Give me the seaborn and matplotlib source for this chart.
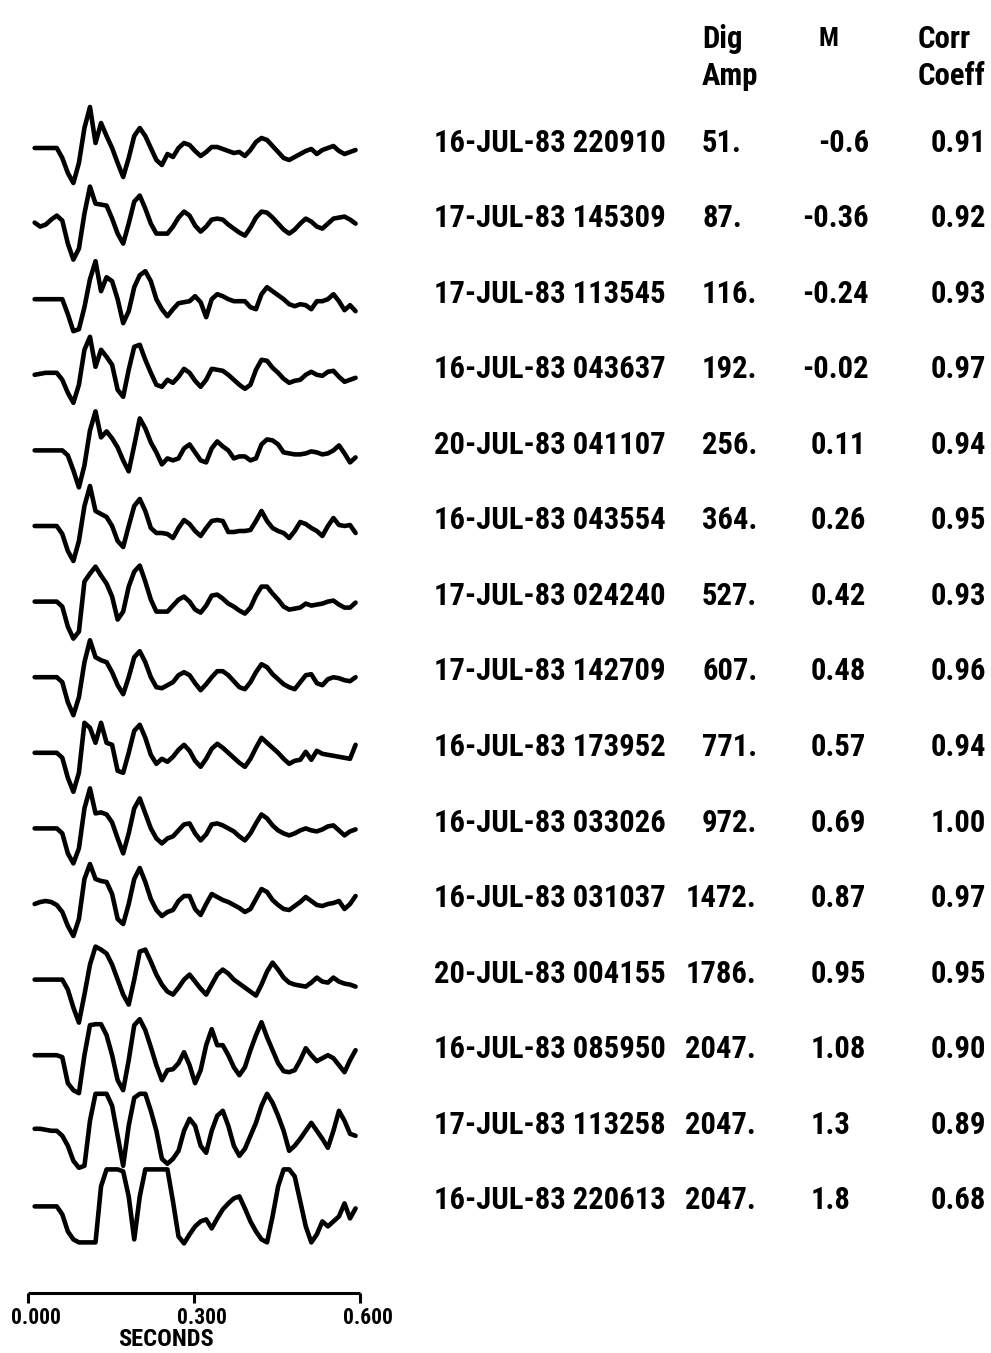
import numpy as np
import pandas as pd
import matplotlib
matplotlib.use("Agg")
import matplotlib.pyplot as plt
from matplotlib import font_manager as fm
from matplotlib.textpath import TextPath
import seaborn as sns

sns.set_theme(style="white")
plt.rcParams["font.family"] = ["DejaVu Sans"]

# ---------------------------------------------------------------- event table
event_labels = [
    "16-JUL-83 220910", "17-JUL-83 145309", "17-JUL-83 113545",
    "16-JUL-83 043637", "20-JUL-83 041107", "16-JUL-83 043554",
    "17-JUL-83 024240", "17-JUL-83 142709", "16-JUL-83 173952",
    "16-JUL-83 033026", "16-JUL-83 031037", "20-JUL-83 004155",
    "16-JUL-83 085950", "17-JUL-83 113258", "16-JUL-83 220613",
]
dig_amp = [51, 87, 116, 192, 256, 364, 527, 607, 771, 972, 1472, 1786, 2047, 2047, 2047]
magnitude = [-0.6, -0.36, -0.24, -0.02, 0.11, 0.26, 0.42, 0.48, 0.57, 0.69,
             0.87, 0.95, 1.08, 1.3, 1.8]
corr_coeff = [0.91, 0.92, 0.93, 0.97, 0.94, 0.95, 0.93, 0.96, 0.94, 1.00,
              0.97, 0.95, 0.90, 0.89, 0.68]

# ---------------------------------------------------------------- waveforms
# Digitised seismograms, one sample every 10 ms starting 12 ms after the
# window start; deflection in plot units (positive = up).
SAMPLE_START = 0.012
SAMPLE_INTERVAL = 0.010

wave_01 = [0, 0, 0, 0, 0, -10, -25, -35, -15, 20, 41, 5, 25, 12, 0,
           -15, -29, -10, 12, 20, 12, 0, -12, -17, -6, -9, 0, 5, 3, -3,
           -8, -4, 1, 1, -1, -3, -5, -4, -8, -2, 6, 10, 8, 2, -4,
           -10, -12, -9, -6, -3, -1, -6, -2, 0, 2, -3, -6, -4, -2]
wave_02 = [1, -3, -1, 4, 8, 3, -20, -36, -25, 10, 37, 20, 19, 18, 5,
           -10, -20, 0, 22, 28, 15, 0, -10, -10, -10, -3, 6, 12, 8, -2,
           -8, -3, 4, 5, 4, -1, -5, -9, -12, -4, 6, 12, 11, 6, 0,
           -6, -10, -6, 0, 5, 2, -3, -5, 0, 5, 6, 7, 4, 0]
wave_03 = [0, 0, 0, 0, 0, 0, -15, -32, -30, -8, 20, 38, 8, 22, 18,
           0, -24, -12, 12, 24, 28, 18, 0, -10, -17, -10, -4, -3, -2, 3,
           -3, -18, 0, 5, 3, 0, -2, -2, -2, -8, -10, 5, 12, 8, 4,
           0, -5, -7, -5, -6, -10, -2, -2, 0, 5, -2, -11, -6, -12]
wave_04 = [0, 1, 2, 2, 2, -5, -18, -28, -10, 25, 38, 8, 25, 18, 10,
           -15, -22, 5, 28, 30, 15, 2, -10, -12, -5, -8, -2, 6, 2, -6,
           -12, -5, 6, 5, 4, 0, -5, -10, -14, -10, 5, 15, 14, 7, 2,
           -4, -8, -6, -5, 0, 3, 0, -1, 3, 4, -2, -7, -5, -3]
wave_05 = [0, 0, 0, 0, 0, 0, -5, -20, -37, -15, 20, 39, 13, 19, 12,
           3, -10, -21, 5, 32, 22, 8, -2, -14, -8, -10, -8, 2, 6, -2,
           -10, -12, 2, 9, 4, 0, -8, -6, -6, -10, -8, 6, 11, 10, 6,
           -2, -3, -4, -4, -3, -1, -2, -4, -3, 0, 5, -3, -12, -7]
wave_06 = [0, 0, 0, 0, 0, -8, -25, -35, -15, 20, 40, 15, 12, 9, 0,
           -15, -21, 0, 20, 27, 15, -2, -7, -7, -8, -12, -2, 6, 2, -5,
           -10, -2, 5, 6, 5, -6, -6, -5, -5, -4, 5, 15, 5, -2, -5,
           -7, -12, -5, 4, 2, -2, -5, -10, 0, 8, 1, 0, 1, -7]
wave_07 = [0, 0, 0, 0, 0, -5, -25, -37, -30, 20, 28, 35, 26, 18, 5,
           -18, -10, 15, 30, 36, 20, 2, -10, -10, -10, -4, 2, 5, 0, -8,
           -11, -4, 6, 7, 3, -2, -5, -9, -12, -6, 6, 15, 15, 8, 2,
           -5, -8, -7, -6, -2, -4, -3, -2, 0, 1, -3, -6, -6, -1]
wave_08 = [0, 0, 0, 0, 0, -5, -25, -38, -20, 15, 37, 20, 17, 15, 5,
           -8, -17, 0, 20, 26, 15, 0, -10, -11, -8, -5, 2, 5, 2, -6,
           -13, -7, 0, 6, 6, 2, -4, -10, -12, -5, 5, 13, 10, 3, -2,
           -7, -10, -12, -5, 2, 3, -6, -8, -2, 0, -1, -3, -4, 0]
wave_09 = [0, 0, 0, 0, 0, -5, -25, -39, -20, 30, 25, 10, 30, 10, 8,
           -18, -20, 0, 22, 28, 15, -2, -11, -6, -9, -4, 3, 8, 2, -8,
           -14, -6, 4, 9, 5, 0, -5, -10, -14, -6, 5, 15, 10, 5, 0,
           -6, -11, -8, -7, 1, -7, 2, -1, -2, -3, -4, -5, -6, 8]
wave_10 = [0, 0, 0, 0, 0, -5, -25, -35, -20, 20, 40, 15, 16, 14, 6,
           -10, -25, -5, 20, 30, 15, 0, -10, -15, -10, -8, -2, 4, 5, -5,
           -12, -6, 4, 5, 3, 0, -3, -8, -12, -5, 5, 14, 10, 3, -2,
           -5, -7, -5, -2, 0, -2, -3, -1, 2, 3, -2, -7, -3, -1]
wave_11 = [0, 2, 3, 2, -1, -8, -22, -32, -15, 25, 40, 25, 23, 22, 10,
           -15, -20, 0, 25, 36, 22, 5, -6, -12, -8, -6, 3, 8, 8, -5,
           -11, 0, 10, 7, 4, 2, -1, -4, -8, -5, 5, 15, 12, 4, -1,
           -5, -6, -2, 2, 7, 3, -1, -2, 0, 1, 3, -5, 0, 8]
wave_12 = [0, 0, 0, 0, 0, 0, -10, -28, -43, -15, 15, 33, 30, 26, 15,
           0, -15, -25, 0, 28, 30, 18, 5, -5, -12, -15, -8, 0, 5, -2,
           -9, -15, -5, 5, 10, 6, 0, -4, -8, -12, -16, -5, 8, 17, 10,
           2, -3, -5, -6, -7, -3, 2, -2, -3, 2, -2, -4, -5, -7]
wave_13 = [0, 0, 0, 0, 0, -2, -28, -35, -38, 0, 30, 31, 31, 20, 0,
           -25, -35, -5, 30, 36, 25, 8, -10, -25, -15, -14, -8, 3, -10, -28,
           -15, 10, 26, 10, 10, 0, -12, -20, -12, 5, 20, 33, 18, 5, -8,
           -16, -17, -15, -5, 7, 0, -6, -3, 0, -3, -10, -17, -5, 5]
wave_14 = [2, 2, 1, 0, 0, -5, -15, -30, -37, -35, 10, 37, 37, 37, 25,
           -5, -35, 5, 33, 37, 37, 20, 0, -28, -33, -28, -20, 0, 12, 5,
           -15, -22, 0, 15, 20, 5, -15, -25, -18, -5, 8, 25, 37, 28, 15,
           0, -20, -15, -8, 0, 8, 0, -8, -17, 0, 20, 10, -3, -5]
wave_15 = [0, 0, 0, 0, 0, -8, -25, -33, -36, -36, -36, -36, 20, 37, 37,
           37, 35, 10, -33, 10, 37, 37, 37, 37, 37, 5, -30, -37, -28, -20,
           -15, -13, -22, -12, -3, 3, 8, 10, -2, -15, -25, -33, -36, -10, 20,
           37, 37, 30, 5, -20, -36, -28, -15, -20, -15, -10, 3, -12, -2]

waves = [wave_01, wave_02, wave_03, wave_04, wave_05, wave_06, wave_07,
         wave_08, wave_09, wave_10, wave_11, wave_12, wave_13, wave_14, wave_15]

# time scale bar (seconds)
scale_ticks = [0.0, 0.3, 0.6]

# ---------------------------------------------------------------- layout
W, H = 991, 1353                 # figure size in pixels
PX_PER_SEC = 332 / 0.6           # horizontal trace scale
T0_PX = 28                       # pixel column of t = 0
FIRST_BASE_PX = 148              # baseline of the first trace
TRACE_STEP = 75.6                # vertical spacing between traces
ROW0_PX = 141                    # centre of the first table row
ROW_STEP = 75.57
LEFT_W = 400                     # width of the waveform panel
DATE_W_PX = 228                  # ink width of one date/time label
DATE_H_PX = 23                   # ink height of one date/time label
PX_PER_PT = 100 / 72

SANS_FAMILIES = ("Noto Sans", "DejaVu Sans", "Liberation Sans", "Roboto",
                 "Open Sans", "Lato", "Inter")
WIDTH_WORDS = ("condensed", "narrow", "compressed", "display")
BAD_WORDS = ("mono", "cjk", "symbol", "math", "slab", "serif", "italic")


def ink_extent(text, prop):
    """Ink width/height of a string at 100 pt."""
    ext = TextPath((0, 0), text, prop=prop, size=100).get_extents()
    return ext.width, ext.height


def latin_sans(f):
    name = f.name
    for fam in SANS_FAMILIES:
        if name.startswith(fam):
            rest = name[len(fam):].strip().lower()
            if any(b in rest for b in BAD_WORDS) or any(b in f.fname.lower() for b in ("italic", "mono")):
                return False
            return rest == "" or any(w in rest for w in WIDTH_WORDS) or rest in (
                "black", "bold", "extrabold", "semibold", "heavy")
    return False


def pick_font():
    """Heavy sans face whose proportions suit the narrow table lettering."""
    target = DATE_W_PX / DATE_H_PX
    best = None
    seen = set()
    for f in fm.fontManager.ttflist:
        if f.fname in seen or f.style != "normal" or not latin_sans(f):
            continue
        seen.add(f.fname)
        try:
            weight = int(f.weight)
        except (TypeError, ValueError):
            weight = 700 if "bold" in str(f.weight).lower() else 400
        if weight < 600:
            continue
        prop = fm.FontProperties(fname=f.fname)
        try:
            w, h = ink_extent(event_labels[0], prop)
        except Exception:
            continue
        if h <= 0:
            continue
        score = abs(w / h - target) + abs(weight - 800) / 300
        if best is None or score < best[0]:
            best = (score, prop)
    if best is None:
        return fm.FontProperties(family="DejaVu Sans", weight="bold")
    return best[1]


FONT = pick_font()


def size_for_width(text, width_px):
    w, _ = ink_extent(text, FONT)
    return width_px / (w / 100 * PX_PER_PT)


frames = []
for i, (label, w) in enumerate(zip(event_labels, waves)):
    t = SAMPLE_START + SAMPLE_INTERVAL * np.arange(len(w))
    frames.append(pd.DataFrame({
        "event": label,
        "time_s": t,
        "trace_y": np.asarray(w, dtype=float) - i * TRACE_STEP,
    }))
df = pd.concat(frames, ignore_index=True)

BODY_SIZE = size_for_width(event_labels[0], DATE_W_PX)
HEAD_SIZE = size_for_width("Coeff", 66)
SCALE_SIZE = size_for_width("0.000", 48)
UNIT_SIZE = size_for_width("SECONDS", 94)

fig = plt.figure(figsize=(W / 100, H / 100), dpi=100)
fig.patch.set_facecolor("white")

# waveform panel: x in seconds, y in plot units
ax = fig.add_axes([0, 0, LEFT_W / W, 1])
ax.set_xlim(-T0_PX / PX_PER_SEC, (LEFT_W - T0_PX) / PX_PER_SEC)
ax.set_ylim(FIRST_BASE_PX - H, FIRST_BASE_PX)
ax.axis("off")

sns.lineplot(data=df, x="time_s", y="trace_y", units="event", estimator=None,
             sort=False, color="black", linewidth=3.3, legend=False, ax=ax,
             solid_joinstyle="round", solid_capstyle="round")

# time scale bar
bar_y = FIRST_BASE_PX - 1293
ax.plot([scale_ticks[0], scale_ticks[-1]], [bar_y, bar_y], color="black",
        linewidth=2.2, solid_capstyle="butt")
ax.vlines(scale_ticks, bar_y - 10, bar_y, color="black", linewidth=2.2)
for v in scale_ticks:
    ax.text(v + 8 / PX_PER_SEC, bar_y - 31, f"{v:.3f}", ha="center",
            va="baseline", fontproperties=FONT, fontsize=SCALE_SIZE, color="black")
ax.text((166 - T0_PX) / PX_PER_SEC, bar_y - 53, "SECONDS", ha="center",
        va="baseline", fontproperties=FONT, fontsize=UNIT_SIZE, color="black")

# table panel: x in pixels, rows by index
axt = fig.add_axes([LEFT_W / W, 0, (W - LEFT_W) / W, 1])
axt.set_xlim(LEFT_W, W)
axt.set_ylim(H, 0)
axt.axis("off")

txt = dict(fontproperties=FONT, fontsize=BODY_SIZE, color="black", va="baseline")
hdr = dict(fontproperties=FONT, fontsize=HEAD_SIZE, color="black", va="baseline")

axt.text(702, 48, "Dig", ha="left", **hdr)
axt.text(702, 85, "Amp", ha="left", **hdr)
axt.text(828, 46, "M", ha="center", fontproperties=FONT,
         fontsize=HEAD_SIZE * 0.85, color="black", va="baseline")
axt.text(918, 48, "Corr", ha="left", **hdr)
axt.text(918, 85, "Coeff", ha="left", **hdr)

for i, (label, amp, mag, cc) in enumerate(zip(event_labels, dig_amp,
                                               magnitude, corr_coeff)):
    yb = ROW0_PX + i * ROW_STEP + 10.5
    axt.text(434, yb, label, ha="left", **txt)
    amp_s = f"{amp}."
    if len(amp_s) > 4:
        axt.text(756, yb, amp_s, ha="right", **txt)
    else:
        axt.text(702, yb, amp_s, ha="left", **txt)
    mag_s = str(mag)
    if mag < 0:
        axt.text(869, yb, mag_s, ha="right", **txt)
    else:
        axt.text(811, yb, mag_s, ha="left", **txt)
    axt.text(986, yb, f"{cc:.2f}", ha="right", **txt)

fig.savefig("out.png", dpi=100, facecolor="white")
